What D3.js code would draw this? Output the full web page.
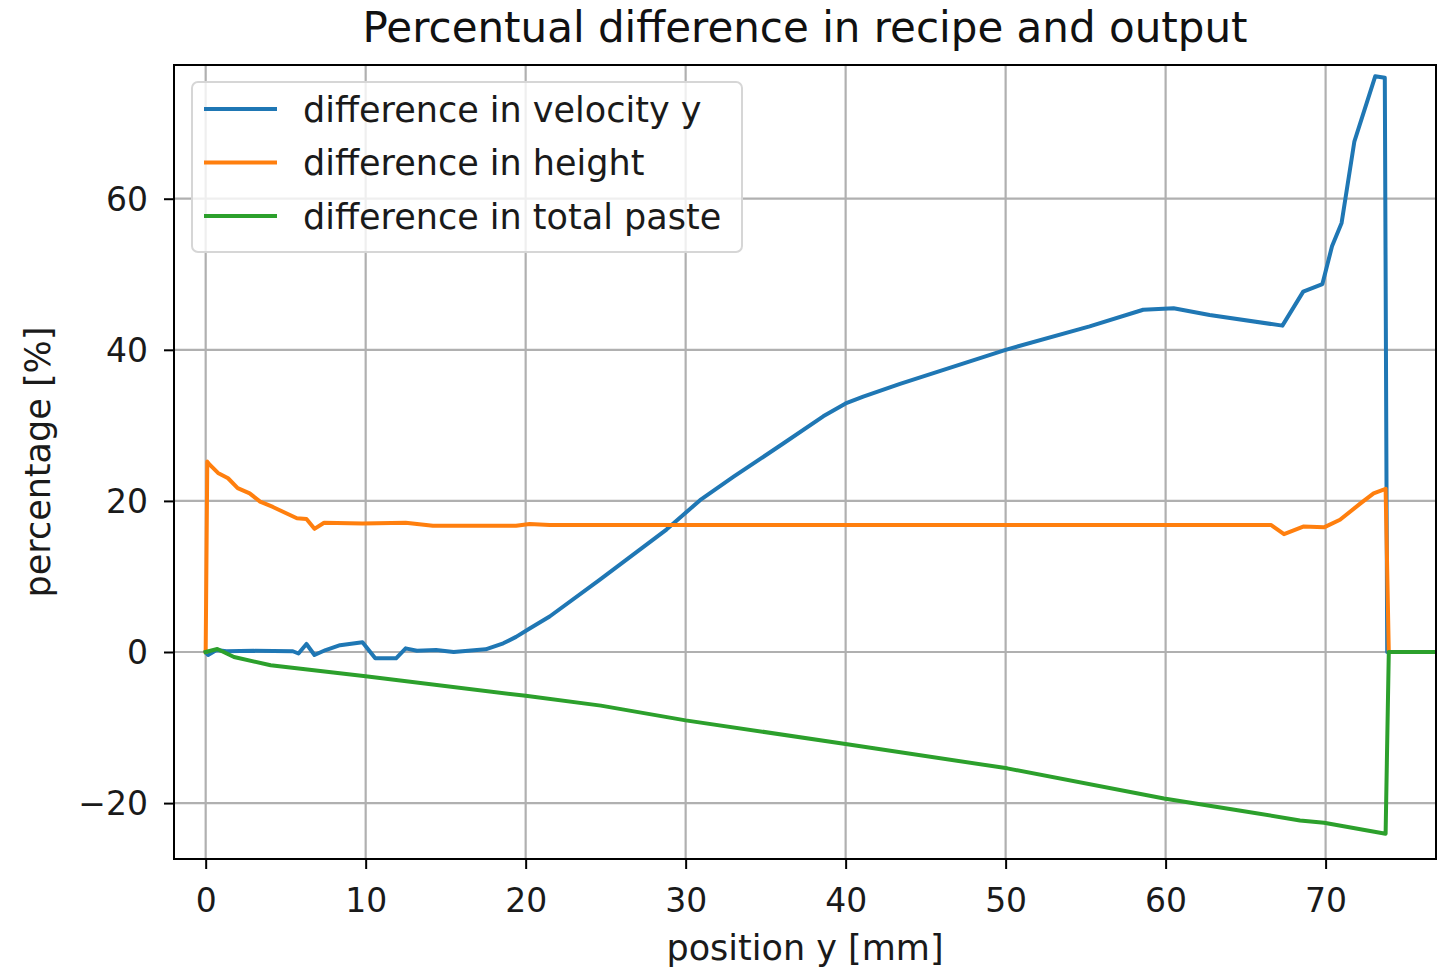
<!DOCTYPE html>
<html>
<head>
<meta charset="utf-8">
<script src="https://cdn.jsdelivr.net/npm/d3@7"></script>
<style>
  body { margin: 0; background: #fff; }
  svg { display: block; font-family: "DejaVu Sans", sans-serif; }
</style>
</head>
<body>
<svg id="chart" width="1443" height="972"></svg>
<script>
// data
const velX = [0, 0.15, 0.67, 1.3, 3, 5.45, 5.8, 6.3, 6.8, 7.5, 8.4, 9.8, 10.6, 11.9, 12.5, 13.2, 14.4, 15.5, 17.5, 18.6, 19.4, 20.25, 21.5, 24.6, 28.8, 30.9, 33.0, 36.1, 38.6, 40.0, 41.1, 43.4, 50.0, 55.25, 58.6, 60.5, 62.75, 67.3, 68.6, 69.8, 70.4, 71.0, 71.8, 73.1, 73.7, 73.85, 77];
const velY = [0, -0.4, 0.26, 0.1, 0.15, 0.1, -0.2, 1.06, -0.4, 0.26, 0.9, 1.28, -0.84, -0.84, 0.48, 0.17, 0.26, 0, 0.35, 1.15, 2.0, 3.1, 4.7, 9.5, 16.2, 20.1, 23.2, 27.6, 31.2, 32.9, 33.8, 35.5, 40.0, 43.1, 45.3, 45.5, 44.6, 43.2, 47.7, 48.7, 53.7, 56.8, 67.6, 76.2, 76.0, 0, 0];

const heightX = [0, 0.1, 0.25, 0.77, 1.4, 2.0, 2.75, 3.4, 4.2, 4.8, 5.7, 6.3, 6.8, 7.4, 9.8, 12.5, 14.2, 19.4, 20.25, 21.5, 66.6, 67.4, 68.6, 69.9, 70.9, 72.2, 73.0, 73.75, 73.95, 77];
const heightY = [0, 25.2, 24.8, 23.7, 23.0, 21.7, 21.0, 19.9, 19.2, 18.6, 17.7, 17.6, 16.3, 17.1, 17.0, 17.1, 16.7, 16.7, 16.95, 16.8, 16.8, 15.6, 16.6, 16.5, 17.5, 19.7, 21.0, 21.6, 0, 0];

const pasteX = [0, 0.73, 1.77, 4.06, 10, 20, 24.7, 30, 40.1, 50.1, 59.9, 64.7, 68.4, 69.9, 73.75, 73.95, 77];
const pasteY = [0, 0.4, -0.66, -1.76, -3.2, -5.8, -7.1, -9.05, -12.2, -15.4, -19.4, -21.0, -22.3, -22.6, -24.05, 0, 0];

const seriesNames = ["difference in velocity y", "difference in height", "difference in total paste"];
const seriesColors = ["#1f77b4", "#ff7f0e", "#2ca02c"];
const xTicks = [0, 10, 20, 30, 40, 50, 60, 70];
const yTicks = [-20, 0, 20, 40, 60];

const margin = { top: 65, right: 7, bottom: 113, left: 174 };
const W = 1443, H = 972;

const svg = d3.select("#chart");

const x = d3.scaleLinear()
    .domain([-1.98, 76.9])
    .range([margin.left, W - margin.right]);

const y = d3.scaleLinear()
    .domain([-27.4, 77.7])
    .range([H - margin.bottom, margin.top]);

// grid
svg.append("g")
    .selectAll("line.gx")
    .data(xTicks)
    .join("line")
        .attr("x1", d => x(d)).attr("x2", d => x(d))
        .attr("y1", margin.top).attr("y2", H - margin.bottom)
        .attr("stroke", "#b0b0b0").attr("stroke-width", 2.2);

svg.append("g")
    .selectAll("line.gy")
    .data(yTicks)
    .join("line")
        .attr("y1", d => y(d)).attr("y2", d => y(d))
        .attr("x1", margin.left).attr("x2", W - margin.right)
        .attr("stroke", "#b0b0b0").attr("stroke-width", 2.2);

// clip for lines
svg.append("clipPath").attr("id", "plotclip")
  .append("rect")
    .attr("x", margin.left).attr("y", margin.top)
    .attr("width", W - margin.right - margin.left)
    .attr("height", H - margin.bottom - margin.top);

const series = [
  d3.zip(velX, velY),
  d3.zip(heightX, heightY),
  d3.zip(pasteX, pasteY)
];

const line = d3.line()
    .x(d => x(d[0]))
    .y(d => y(d[1]));

svg.append("g")
    .attr("clip-path", "url(#plotclip)")
    .selectAll("path")
    .data(series)
    .join("path")
        .attr("d", line)
        .attr("fill", "none")
        .attr("stroke", (d, i) => seriesColors[i])
        .attr("stroke-width", 4)
        .attr("stroke-linejoin", "round")
        .attr("stroke-linecap", "square");

// axes
const xAxis = svg.append("g")
    .attr("transform", `translate(0, ${H - margin.bottom})`)
    .call(d3.axisBottom(x).tickValues(xTicks).tickSize(10).tickPadding(8).tickSizeOuter(0));

const yAxis = svg.append("g")
    .attr("transform", `translate(${margin.left}, 0)`)
    .call(d3.axisLeft(y).tickValues(yTicks).tickSize(10).tickPadding(16).tickSizeOuter(0)
        .tickFormat(d => d < 0 ? "\u2212" + Math.abs(d) : d));

[xAxis, yAxis].forEach(g => {
  g.select(".domain").remove();
  g.selectAll(".tick line").attr("stroke", "#000").attr("stroke-width", 2);
  g.selectAll(".tick text")
      .attr("fill", "#1a1a1a")
      .style("font-size", "33px")
      .style("font-family", "DejaVu Sans, sans-serif");
});
xAxis.selectAll(".tick text").attr("dy", "1.05em");
yAxis.selectAll(".tick text").attr("dy", "0.36em");

// frame
svg.append("rect")
    .attr("x", margin.left).attr("y", margin.top)
    .attr("width", W - margin.right - margin.left)
    .attr("height", H - margin.bottom - margin.top)
    .attr("fill", "none")
    .attr("stroke", "#000")
    .attr("stroke-width", 2);

// title and labels
svg.append("text")
    .attr("x", (margin.left + W - margin.right) / 2)
    .attr("y", 42)
    .attr("text-anchor", "middle")
    .attr("fill", "#111")
    .style("font-size", "42px")
    .text("Percentual difference in recipe and output");

svg.append("text")
    .attr("x", (margin.left + W - margin.right) / 2)
    .attr("y", 960)
    .attr("text-anchor", "middle")
    .attr("fill", "#1a1a1a")
    .style("font-size", "35px")
    .text("position y [mm]");

svg.append("text")
    .attr("transform", `translate(50, ${(margin.top + H - margin.bottom) / 2}) rotate(-90)`)
    .attr("text-anchor", "middle")
    .attr("fill", "#1a1a1a")
    .style("font-size", "35px")
    .text("percentage [%]");

// legend
const legend = svg.append("g");
legend.append("rect")
    .attr("x", 192).attr("y", 82)
    .attr("width", 550).attr("height", 170)
    .attr("rx", 6)
    .attr("fill", "#fff").attr("fill-opacity", 0.8)
    .attr("stroke", "#d6d6d6").attr("stroke-width", 2);

const rows = legend.selectAll("g.row")
    .data(seriesNames)
    .join("g")
        .attr("transform", (d, i) => `translate(0, ${109 + i * 53.5})`);

rows.append("line")
    .attr("x1", 204).attr("x2", 277)
    .attr("stroke", (d, i) => seriesColors[i])
    .attr("stroke-width", 4);

rows.append("text")
    .attr("x", 303)
    .attr("dy", "0.36em")
    .attr("fill", "#1a1a1a")
    .style("font-size", "35px")
    .text(d => d);
</script>
</body>
</html>
